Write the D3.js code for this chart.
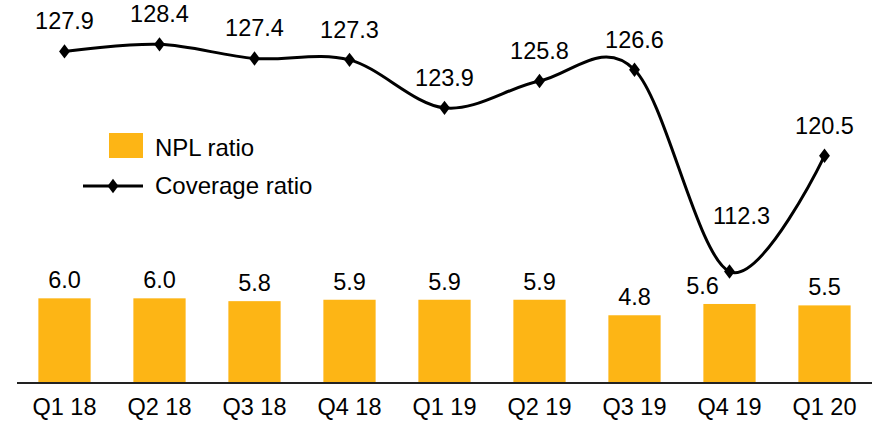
<!DOCTYPE html>
<html>
<head>
<meta charset="utf-8" />
<title>NPL and coverage ratio</title>
<script src="https://cdn.jsdelivr.net/npm/d3@7"></script>
<style>
  body { margin: 0; background: #fff; }
  text { font-family: "Liberation Sans", Arial, sans-serif; fill: #000; }
</style>
</head>
<body>
<script>
var quarters = ["Q1 18", "Q2 18", "Q3 18", "Q4 18", "Q1 19", "Q2 19", "Q3 19", "Q4 19", "Q1 20"];
var nplRatio = [6.0, 6.0, 5.8, 5.9, 5.9, 5.9, 4.8, 5.6, 5.5];
var coverageRatio = [127.9, 128.4, 127.4, 127.3, 123.9, 125.8, 126.6, 112.3, 120.5];

var width = 879, height = 421;
var fs = "23.5px";
var svg = d3.select("body").append("svg")
    .attr("width", width)
    .attr("height", height);

var x = d3.scaleBand()
    .domain(quarters)
    .range([17, 872])
    .paddingInner(0.45)
    .paddingOuter(0.225);

var yBar = d3.scaleLinear().domain([0, 27]).range([383, 2]);
var yLine = d3.scaleLinear().domain([104.4, 131.4]).range([383, 2]);

var cx = function(q) { return x(q) + x.bandwidth() / 2; };

// bars
svg.selectAll("rect.bar")
    .data(quarters)
    .enter()
    .append("rect")
    .attr("class", "bar")
    .attr("x", function(d) { return x(d); })
    .attr("y", function(d, i) { return yBar(nplRatio[i]); })
    .attr("width", x.bandwidth())
    .attr("height", function(d, i) { return yBar(0) - yBar(nplRatio[i]); })
    .attr("fill", "#FDB515");

svg.selectAll("text.barlabel")
    .data(quarters)
    .enter()
    .append("text")
    .attr("class", "barlabel")
    .attr("x", function(d, i) { return cx(d) - (d == "Q4 19" ? 27 : 0); })
    .attr("y", function(d, i) { return yBar(nplRatio[i]) - 10; })
    .attr("text-anchor", "middle")
    .style("font-size", fs)
    .text(function(d, i) { return nplRatio[i].toFixed(1); });

// x axis
var xAxis = svg.append("g")
    .attr("transform", "translate(0,383)")
    .call(d3.axisBottom(x).tickSize(0).tickPadding(15));
xAxis.select(".domain").attr("stroke", "#222").attr("stroke-width", 2).attr("d", "M17,0H872");
xAxis.selectAll("text")
    .style("font-size", fs)
    .style("font-family", "Liberation Sans, Arial, sans-serif")
    .attr("fill", "#000");

// coverage line
var pts = quarters.map(function(q, i) { return [cx(q), yLine(coverageRatio[i])]; });
svg.append("path")
    .datum(pts)
    .attr("fill", "none")
    .attr("stroke", "#000")
    .attr("stroke-width", 3)
    .attr("d", d3.line().curve(d3.curveCardinal.tension(0)));

var diamond = d3.symbol().type(d3.symbolDiamond).size(60);
svg.selectAll("path.marker")
    .data(pts)
    .enter()
    .append("path")
    .attr("class", "marker")
    .attr("transform", function(d) { return "translate(" + d[0] + "," + d[1] + ") scale(1.3,1)"; })
    .attr("d", diamond)
    .attr("fill", "#000");

svg.selectAll("text.linelabel")
    .data(pts)
    .enter()
    .append("text")
    .attr("class", "linelabel")
    .attr("x", function(d, i) { return d[0] + (quarters[i] == "Q4 19" ? 12 : 0); })
    .attr("y", function(d, i) { return d[1] - (quarters[i] == "Q4 19" ? 48 : 22); })
    .attr("text-anchor", "middle")
    .style("font-size", fs)
    .text(function(d, i) { return coverageRatio[i].toFixed(1); });

// legend
var legend = svg.append("g");
legend.append("rect")
    .attr("x", 109).attr("y", 133)
    .attr("width", 34).attr("height", 25)
    .attr("fill", "#FDB515");
legend.append("text")
    .attr("x", 155).attr("y", 156)
    .style("font-size", "24px")
    .text("NPL ratio");
legend.append("line")
    .attr("x1", 83).attr("x2", 143)
    .attr("y1", 186).attr("y2", 186)
    .attr("stroke", "#000").attr("stroke-width", 3);
legend.append("path")
    .attr("transform", "translate(113,186) scale(1.3,1)")
    .attr("d", diamond)
    .attr("fill", "#000");
legend.append("text")
    .attr("x", 155).attr("y", 194)
    .style("font-size", "24px")
    .text("Coverage ratio");
</script>
</body>
</html>
